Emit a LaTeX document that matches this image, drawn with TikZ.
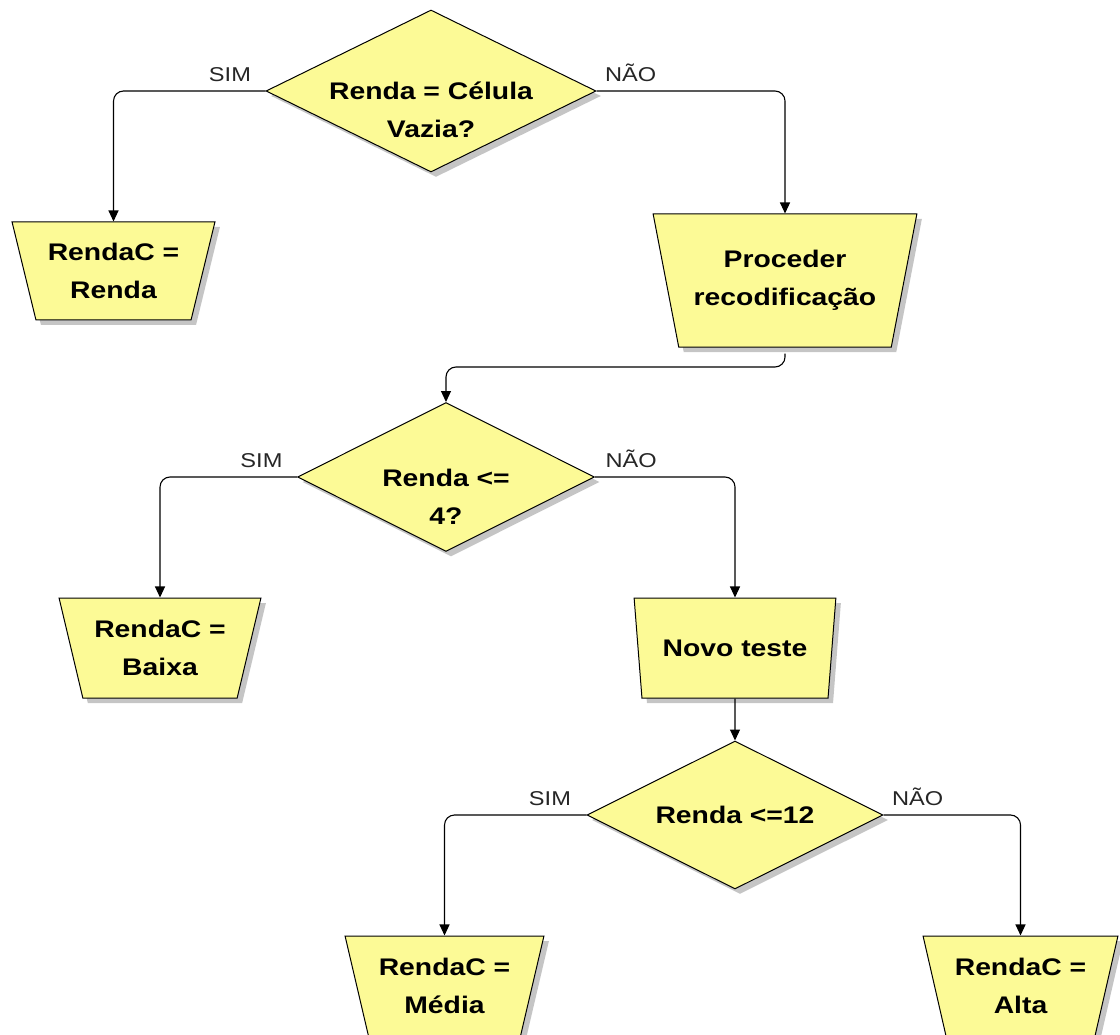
\documentclass[tikz,border=0pt]{standalone}
\usepackage{fontspec}
\setmainfont{Liberation Sans}[FakeStretch=1.18]
\usepackage{tikz}
\usetikzlibrary{arrows.meta, positioning, shapes.geometric, shadows}

\definecolor{boxfill}{RGB}{252,250,150}

\begin{document}
\begin{tikzpicture}[
    x=1pt, y=-1pt,
    myshadow/.style={drop shadow={shadow xshift=5pt, shadow yshift=-5pt, fill=black!45}},
    decision/.style={diamond, draw, line width=1pt, fill=boxfill, inner sep=0pt, myshadow},
    action/.style={trapezium, trapezium angle=70, shape border rotate=180, trapezium stretches=true,
        draw, line width=1pt, fill=boxfill, inner sep=0pt, align=center, myshadow,
        font=\bfseries\fontsize{24}{38}\selectfont},
    qtext/.style={align=center, inner sep=0pt, font=\bfseries\fontsize{24}{38}\selectfont},
    branchlbl/.style={inner sep=0pt, text=black!85, font=\fontsize{20}{22}\selectfont},
    flowarrow/.style={-{Triangle[length=11pt, width=10pt]}, line width=1.1pt, rounded corners=10pt},
]
    \useasboundingbox (0,0) rectangle (1120,1035);
    \clip (0,0) rectangle (1120,1035);

    % first test: empty cell
    \node[decision, minimum width=330, minimum height=162,
          label={[qtext, yshift=-19pt]center:{Renda = Célula\\Vazia?}}] (q1) at (431,91) {};
    \node[action, minimum width=203, minimum height=98] (rRenda) at (113.5,271) {RendaC =\\Renda};
    \node[action, minimum width=264, minimum height=133] (proc) at (785,280.5) {Proceder\\recodificação};

    % second test: low income
    \node[decision, minimum width=297, minimum height=149,
          label={[qtext, yshift=-20pt]center:{Renda <=\\4?}}] (q2) at (446,477) {};
    \node[action, minimum width=202, minimum height=100] (rBaixa) at (160,648) {RendaC =\\Baixa};
    \node[action, minimum width=202, minimum height=100] (novo) at (735,648) {Novo teste};

    % third test: medium or high
    \node[decision, minimum width=296, minimum height=148,
          label={[qtext]center:{Renda <=12}}] (q3) at (735,815) {};
    \node[action, minimum width=199, minimum height=100] (rMedia) at (444.5,986) {RendaC =\\Média};
    \node[action, minimum width=195, minimum height=100] (rAlta) at (1020.5,986) {RendaC =\\Alta};

    % branches of the first test
    \draw[flowarrow] (q1.west) node[branchlbl, anchor=south east, xshift=-14pt, yshift=9pt] {SIM} -| (rRenda.north);
    \draw[flowarrow] (q1.east) node[branchlbl, anchor=south west, xshift=8pt, yshift=9pt] {NÃO} -| (proc.north);
    \draw[flowarrow] ([yshift=-6pt]proc.south) |- ([yshift=35pt]q2.north) -- (q2.north);

    % branches of the second test
    \draw[flowarrow] (q2.west) node[branchlbl, anchor=south east, xshift=-14pt, yshift=9pt] {SIM} -| (rBaixa.north);
    \draw[flowarrow] (q2.east) node[branchlbl, anchor=south west, xshift=10pt, yshift=9pt] {NÃO} -| (novo.north);
    \draw[flowarrow] (novo.south) -- (q3.north);

    % branches of the third test
    \draw[flowarrow] (q3.west) node[branchlbl, anchor=south east, xshift=-15pt, yshift=9pt] {SIM} -| (rMedia.north);
    \draw[flowarrow] (q3.east) node[branchlbl, anchor=south west, xshift=8pt, yshift=9pt] {NÃO} -| (rAlta.north);

\end{tikzpicture}
\end{document}
